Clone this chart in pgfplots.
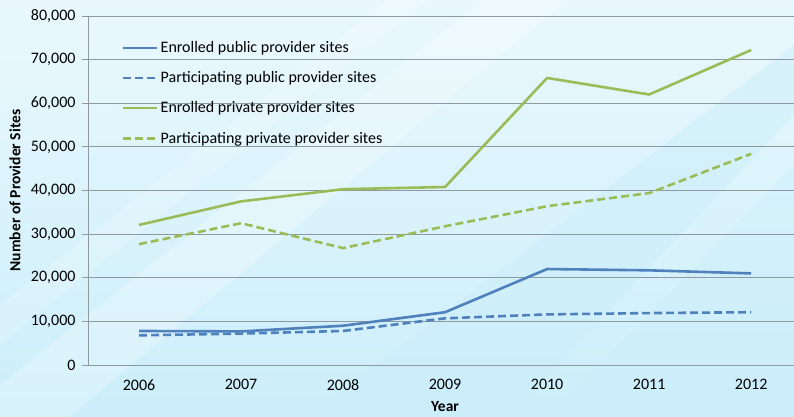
\documentclass[border=0pt]{standalone}
\usepackage{pgfplots}
\pgfplotsset{compat=1.18}
\usepackage{fontspec}
\setmainfont{Carlito}
\definecolor{pubblue}{HTML}{4F81BD}
\definecolor{privgreen}{HTML}{9BBB59}
\definecolor{bgA}{HTML}{EAF8FD}
\definecolor{bgB}{HTML}{CBEEFA}
\definecolor{gridgray}{HTML}{8F9AA0}
\begin{document}
\begin{tikzpicture}
% background (image px -> x-88, 365-y)
\path[use as bounding box] (-88pt,-52pt) rectangle (706pt,365pt);
\shade[left color=bgA, right color=bgB, shading angle=0] (-88pt,-52pt) rectangle (706pt,365pt);
\fill[white, opacity=0.25] (-88pt,-20pt) -- (395pt,365pt) -- (479pt,365pt) -- (-88pt,-110pt) -- cycle;
\fill[white, opacity=0.18] (-88pt,60pt) -- (300pt,365pt) -- (340pt,365pt) -- (-88pt,20pt) -- cycle;
\fill[bgB, opacity=0.5] (706pt,320pt) -- (220pt,-52pt) -- (420pt,-52pt) -- (706pt,250pt) -- cycle;
\fill[bgB, opacity=0.4] (706pt,200pt) -- (460pt,-52pt) -- (706pt,-52pt) -- cycle;
\begin{axis}[
  at={(0pt,0pt)}, anchor=south west,
  scale only axis, width=706pt, height=349pt,
  xmin=-0.5, xmax=6.42, ymin=0, ymax=80000,
  axis x line*=bottom, axis y line*=left,
  axis line style={draw=gridgray, line width=0.8pt, -},
  xtick={0,...,6},
  xticklabels={2006,2007,2008,2009,2010,2011,2012},
  xtick style={draw=none},
  extra x ticks={-0.5,0.5,1.5,2.5,3.5,4.5,5.5},
  extra x tick labels={},
  extra x tick style={grid=none, tick style={draw=gridgray, line width=0.8pt}},
  ytick={0,10000,...,80000},
  scaled y ticks=false,
  /pgf/number format/fixed,
  /pgf/number format/1000 sep={,},
  /pgf/number format/assume math mode=true,
  tick align=outside, major tick length=6pt,
  ytick style={draw=gridgray, line width=0.8pt},
  ymajorgrids, grid style={draw=gridgray, line width=0.8pt},
  tick label style={font=\fontsize{16}{18}\selectfont, text=black},
  xticklabel style={yshift=-5pt},
  yticklabel style={xshift=-3pt},
  xlabel={Year}, ylabel={Number of Provider Sites},
  xlabel style={font=\bfseries\fontsize{15.5}{17}\selectfont, at={(axis description cs:0.5057,0)}, anchor=north, yshift=-33pt},
  ylabel style={font=\bfseries\fontsize{15.5}{17}\selectfont, at={(axis description cs:0,0.5)}, anchor=south, yshift=64pt},
  legend style={draw=none, fill=none, at={(axis description cs:0.048,0.933)}, anchor=north west,
    font=\fontsize{16}{18}\selectfont, row sep=13.5pt, inner sep=0pt},
  legend cell align=left,
  legend image code/.code={\draw[#1] plot coordinates {(0pt,0pt) (17pt,0pt) (34pt,0pt)};},
  every axis plot/.append style={line width=2.6pt, line join=round},
  clip=false,
]
\addplot[pubblue] coordinates {(0,7800) (1,7700) (2,9000) (3,12100) (4,22000) (5,21700) (6,21000)};
\addlegendentry{Enrolled public provider sites}
\addplot[pubblue, dash pattern=on 8pt off 4pt] coordinates {(0,6800) (1,7200) (2,7800) (3,10700) (4,11600) (5,11900) (6,12100)};
\addlegendentry{Participating public provider sites}
\addplot[privgreen] coordinates {(0,32100) (1,37500) (2,40300) (3,40800) (4,65800) (5,62000) (6,72200)};
\addlegendentry{Enrolled private provider sites}
\addplot[privgreen, dash pattern=on 8pt off 4pt] coordinates {(0,27700) (1,32500) (2,26800) (3,31800) (4,36400) (5,39400) (6,48400)};
\addlegendentry{Participating private provider sites}
\end{axis}
\end{tikzpicture}
\end{document}
